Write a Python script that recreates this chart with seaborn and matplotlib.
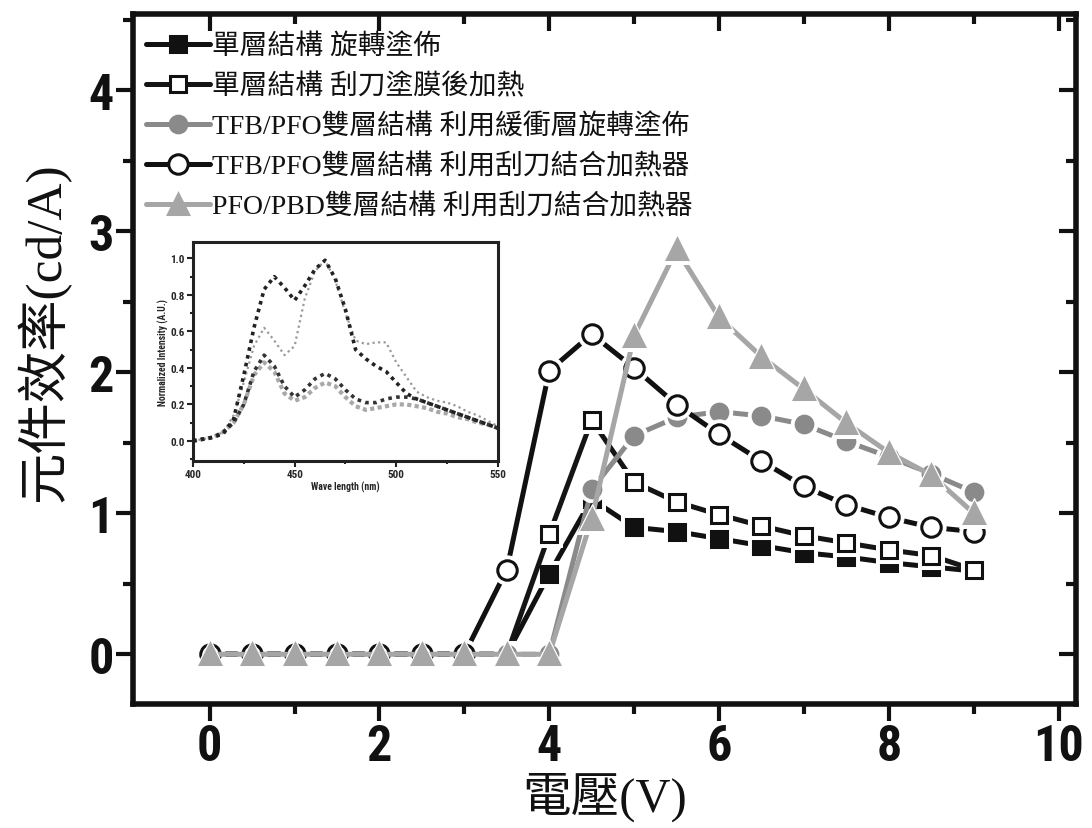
import seaborn as sns
import matplotlib.pyplot as plt
from matplotlib.ticker import MultipleLocator

# 主圖資料：電壓 vs 元件效率
voltage = [0, 0.5, 1.0, 1.5, 2.0, 2.5, 3.0, 3.5, 4.0, 4.5,
           5.0, 5.5, 6.0, 6.5, 7.0, 7.5, 8.0, 8.5, 9.0]

single_spin = [0, 0, 0, 0, 0, 0, 0, 0, 0.57, 1.10,
               0.90, 0.87, 0.82, 0.77, 0.72, 0.69, 0.65, 0.62, 0.59]
single_blade = [0, 0, 0, 0, 0, 0, 0, 0, 0.85, 1.66,
                1.22, 1.08, 0.99, 0.91, 0.84, 0.79, 0.74, 0.70, 0.60]
tfb_buffer = [0, 0, 0, 0, 0, 0, 0, 0, 0, 1.17,
              1.55, 1.68, 1.72, 1.69, 1.63, 1.51, 1.40, 1.28, 1.15]
tfb_blade = [0, 0, 0, 0, 0, 0, 0, 0.60, 2.01, 2.27,
             2.03, 1.77, 1.56, 1.37, 1.19, 1.06, 0.97, 0.90, 0.87]
pbd_blade = [0, 0, 0, 0, 0, 0, 0, 0, 0, 0.96,
             2.26, 2.87, 2.39, 2.11, 1.88, 1.64, 1.43, 1.27, 1.00]

labels = ["單層結構 旋轉塗佈",
          "單層結構 刮刀塗膜後加熱",
          "TFB/PFO雙層結構 利用緩衝層旋轉塗佈",
          "TFB/PFO雙層結構 利用刮刀結合加熱器",
          "PFO/PBD雙層結構 利用刮刀結合加熱器"]

# 插圖資料：EL 光譜
wavelength = [400, 405, 410, 415, 420, 425, 430, 435, 440, 445, 450,
              455, 460, 465, 470, 475, 480, 485, 490, 495, 500,
              505, 510, 515, 520, 525, 530, 535, 540, 545, 550]
spec_a = [0.00, 0.01, 0.02, 0.04, 0.12, 0.36, 0.62, 0.83, 0.90, 0.84, 0.77,
          0.85, 0.94, 0.99, 0.89, 0.72, 0.50, 0.45, 0.41, 0.38, 0.32,
          0.26, 0.23, 0.21, 0.19, 0.17, 0.15, 0.13, 0.11, 0.09, 0.07]
spec_b = [0.00, 0.01, 0.02, 0.05, 0.14, 0.32, 0.52, 0.62, 0.55, 0.47, 0.52,
          0.78, 0.93, 0.99, 0.88, 0.70, 0.55, 0.53, 0.54, 0.54, 0.43,
          0.35, 0.27, 0.24, 0.22, 0.21, 0.19, 0.16, 0.14, 0.11, 0.08]
spec_c = [0.00, 0.01, 0.02, 0.05, 0.10, 0.20, 0.38, 0.47, 0.41, 0.30, 0.24,
          0.28, 0.34, 0.37, 0.34, 0.28, 0.23, 0.21, 0.21, 0.23, 0.24,
          0.24, 0.23, 0.21, 0.19, 0.17, 0.15, 0.13, 0.11, 0.09, 0.07]
spec_d = [0.00, 0.01, 0.02, 0.05, 0.10, 0.20, 0.36, 0.43, 0.38, 0.26, 0.22,
          0.24, 0.29, 0.32, 0.30, 0.24, 0.19, 0.17, 0.18, 0.19, 0.20,
          0.20, 0.19, 0.18, 0.16, 0.15, 0.13, 0.12, 0.10, 0.09, 0.07]

sns.set_theme(style="white")
plt.rcParams['font.family'] = ['Liberation Serif', 'Noto Sans CJK TC', 'DejaVu Sans']
num_font = ['Roboto Condensed', 'Liberation Sans Narrow', 'Liberation Sans']

fig = plt.figure(figsize=(10.92, 8.29), dpi=100)
ax = fig.add_axes([0.122, 0.150, 0.863, 0.832])

# (y, 標記, 大小, 填色, 邊色, 線色)
styles = [
    (single_spin, "s", 12, "#111111", "#111111", "#111111"),
    (single_blade, "s", 12, "white", "#111111", "#151515"),
    (tfb_buffer, "o", 12, "#8a8a8a", "#8a8a8a", "#8a8a8a"),
    (tfb_blade, "o", 14, "white", "#111111", "#111111"),
    (pbd_blade, "^", 14, "#a6a6a6", "#a6a6a6", "#a6a6a6"),
]

for i, (yv, mk, ms, fc, ec, lc) in enumerate(styles):
    z = 3 + i * 3
    sns.lineplot(x=voltage, y=yv, ax=ax, color=lc, lw=3.6, marker=mk, ms=ms,
                 mfc=fc, mec=ec, mew=2.2, label=labels[i], zorder=z)
    # Origin 風格：標記周圍留白
    sns.lineplot(x=voltage, y=yv, ax=ax, ls="", marker=mk, ms=ms + 7,
                 mfc="white", mec="white", zorder=z + 1, legend=False)
    sns.lineplot(x=voltage, y=yv, ax=ax, ls="", marker=mk, ms=ms,
                 mfc=fc, mec=ec, mew=2.2, zorder=z + 2, legend=False)

ax.set_xlim(-0.9, 10.2)
ax.set_ylim(-0.35, 4.54)
ax.xaxis.set_major_locator(MultipleLocator(2))
ax.xaxis.set_minor_locator(MultipleLocator(1))
ax.yaxis.set_major_locator(MultipleLocator(1))
ax.yaxis.set_minor_locator(MultipleLocator(0.5))

for sp in ax.spines.values():
    sp.set_linewidth(4)
    sp.set_color("#111111")

ax.tick_params(which="both", direction="out", bottom=True, left=True,
               top=False, right=False, color="#111111", width=3)
ax.tick_params(which="major", length=12, pad=2)
ax.tick_params(which="minor", length=7)
for t in ax.get_xticklabels() + ax.get_yticklabels():
    t.set_family(num_font)
    t.set_fontweight("bold")
    t.set_fontsize(36)
    t.set_color("#111111")

# 上方與右方的內向刻度
axt = ax.secondary_xaxis("top")
axt.xaxis.set_major_locator(MultipleLocator(2))
axt.xaxis.set_minor_locator(MultipleLocator(1))
axt.tick_params(which="both", direction="in", labeltop=False, color="#111111", width=3)
axt.tick_params(which="major", length=12)
axt.tick_params(which="minor", length=7)
axr = ax.secondary_yaxis("right")
axr.yaxis.set_major_locator(MultipleLocator(1))
axr.yaxis.set_minor_locator(MultipleLocator(0.5))
axr.tick_params(which="both", direction="in", labelright=False, color="#111111", width=3)
axr.tick_params(which="major", length=12)
axr.tick_params(which="minor", length=7)

ax.set_xlabel("電壓(V)", fontsize=35, color="#111111", labelpad=1)
ax.set_ylabel("元件效率(cd/A)", fontsize=37, color="#111111")
ax.yaxis.set_label_coords(-0.066, 0.54)

leg = ax.legend(loc="upper left", bbox_to_anchor=(0.0, 0.99), frameon=False,
                fontsize=20, handlelength=2.3, handletextpad=0.1,
                labelspacing=0.5, borderaxespad=0.05)
for t in leg.get_texts():
    t.set_color("#111111")

# 插圖
axin = fig.add_axes([0.1767, 0.4427, 0.2793, 0.2642])
sns.lineplot(x=wavelength, y=spec_b, ax=axin, color="#9a9a9a", lw=1.6, ls=(0, (1, 1.5)))
sns.lineplot(x=wavelength, y=spec_d, ax=axin, color="#a8a8a8", lw=3, ls=(0, (1, 0.8)))
sns.lineplot(x=wavelength, y=spec_c, ax=axin, color="#333333", lw=2.6, ls=(0, (1, 1.2)))
sns.lineplot(x=wavelength, y=spec_a, ax=axin, color="#222222", lw=2.6, ls=(0, (1, 1.2)))
axin.set_xlim(400, 550)
axin.set_ylim(-0.11, 1.09)
axin.xaxis.set_major_locator(MultipleLocator(50))
axin.xaxis.set_minor_locator(MultipleLocator(25))
axin.yaxis.set_major_locator(MultipleLocator(0.2))
axin.yaxis.set_minor_locator(MultipleLocator(0.1))
for sp in axin.spines.values():
    sp.set_linewidth(2.2)
    sp.set_color("#222222")
axin.tick_params(which="both", direction="out", bottom=True, left=True,
                 color="#222222", width=1.5, labelsize=8, pad=2)
axin.tick_params(which="major", length=4)
axin.tick_params(which="minor", length=2)
for t in axin.get_xticklabels() + axin.get_yticklabels():
    t.set_family(num_font)
    t.set_fontweight("bold")
axin.set_xlabel("Wave length (nm)", fontsize=7, fontweight="bold",
                family=num_font, labelpad=1)
axin.set_ylabel("Normalized Intensity (A.U.)", fontsize=7, fontweight="bold",
                family=num_font, labelpad=1)

fig.savefig("out.png", dpi=100, facecolor="white")
